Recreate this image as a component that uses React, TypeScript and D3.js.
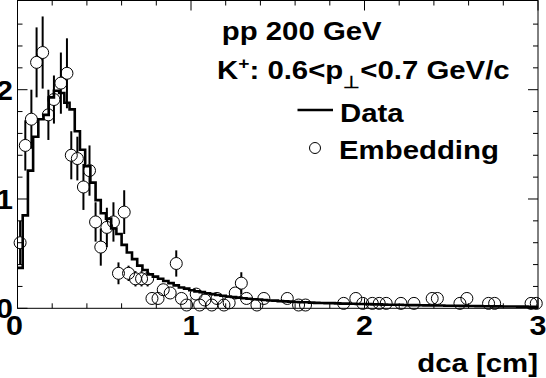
import React from "react";
import * as d3 from "d3";

// ---- data ----
const binWidth = 0.03;
const dataHist: number[] = [
  0.37, 0.85, 1.26, 1.57, 1.73, 1.77, 1.93, 1.99, 1.97, 1.88,
  1.82, 1.62, 1.45, 1.30, 1.15, 0.99, 0.87, 0.82, 0.73, 0.68,
  0.58, 0.51, 0.45, 0.39, 0.35, 0.31, 0.29, 0.27, 0.25, 0.23,
  0.21, 0.19, 0.18, 0.165, 0.155, 0.148, 0.138, 0.13, 0.122, 0.115,
  0.108, 0.104, 0.098, 0.092, 0.088, 0.083, 0.080, 0.076, 0.072, 0.070,
  0.066, 0.063, 0.061, 0.058, 0.056, 0.055, 0.052, 0.050, 0.049, 0.047,
  0.047, 0.045, 0.043, 0.043, 0.041, 0.040, 0.039, 0.038, 0.036, 0.036,
  0.034, 0.033, 0.032, 0.032, 0.030, 0.029, 0.029, 0.028, 0.027, 0.026,
  0.026, 0.025, 0.024, 0.023, 0.023, 0.022, 0.021, 0.021, 0.020, 0.019,
  0.019, 0.018, 0.018, 0.017, 0.016, 0.016, 0.015, 0.015, 0.014, 0.014,
];

const embX: number[] = [
  0.015, 0.045, 0.08, 0.11, 0.145, 0.178, 0.21, 0.25, 0.285, 0.31,
  0.345, 0.38, 0.415, 0.45, 0.48, 0.515, 0.553, 0.582, 0.615, 0.64,
  0.68, 0.715, 0.75, 0.775, 0.81, 0.84, 0.88, 0.915, 0.945, 0.975,
  1.03, 1.05, 1.08, 1.12, 1.15, 1.19, 1.22, 1.255, 1.29, 1.32,
  1.38, 1.42, 1.555, 1.62, 1.66, 1.88, 1.95, 1.99, 2.045, 2.085,
  2.125, 2.21, 2.285, 2.39, 2.42, 2.55, 2.59, 2.715, 2.75, 2.96, 2.99,
];
const embY: number[] = [
  0.60, 1.49, 1.73, 2.25, 2.34, 1.77, 1.91, 2.06, 2.15, 1.40,
  1.37, 1.11, 1.26, 0.79, 0.56, 0.74, 0.79, 0.32, 0.88, 0.32,
  0.27, 0.27, 0.27, 0.09, 0.09, 0.17, 0.14, 0.41, 0.09, 0.03,
  0.13, 0.03, 0.076, 0.03, 0.09, 0.03, 0.05, 0.14, 0.23, 0.09,
  0.03, 0.09, 0.09, 0.03, 0.03, 0.045, 0.09, 0.045, 0.045, 0.045,
  0.045, 0.045, 0.045, 0.09, 0.09, 0.045, 0.09, 0.045, 0.045, 0.045, 0.045,
];
const embErr: number[] = [
  0.20, 0.23, 0.27, 0.32, 0.33, 0.23, 0.22, 0.28, 0.32, 0.22,
  0.20, 0.21, 0.23, 0.18, 0.17, 0.18, 0.18, 0.10, 0.20, 0.07,
  0.07, 0.07, 0.07, 0.03, 0.03, 0.04, 0.04, 0.12, 0.03, 0.02,
  0.03, 0.02, 0.03, 0.02, 0.03, 0.02, 0.02, 0.04, 0.10, 0.03,
  0.02, 0.03, 0.03, 0.02, 0.02, 0.02, 0.03, 0.02, 0.02, 0.02,
  0.02, 0.02, 0.02, 0.03, 0.03, 0.02, 0.03, 0.02, 0.02, 0.02, 0.02,
];

const xMajor = [0, 1, 2, 3];
const yMajor = [0, 1, 2];
const xTickLabels = ["0", "1", "2", "3"];
const yTickLabels = ["0", "1", "2"];

const W = 546;
const H = 378;
const FONT = "'Liberation Sans', Arial, Helvetica, sans-serif";
const SX = 1.13; // horizontal stretch of the reference's text

function T({ x, y, size, anchor, children }: { x: number; y: number; size: number; anchor?: string; children: React.ReactNode }) {
  return (
    <g transform={`translate(${x},${y}) scale(${SX},1)`}>
      <text x={0} y={0} fontSize={size} textAnchor={anchor || "start"}>
        {children}
      </text>
    </g>
  );
}

export default function App() {
  const x = d3.scaleLinear().domain([0, 3]).range([17.5, 538]);
  const y = d3.scaleLinear().domain([0, 2.816]).range([308.3, 0.5]);
  const x0 = x(0), x1 = x(3), y0 = y(0), y1 = y(2.816);

  const histPts: [number, number][] = dataHist.map((v, i) => [i * binWidth, v]);
  histPts.push([3, dataHist[dataHist.length - 1]]);
  const histLine = d3
    .line<[number, number]>()
    .x((d) => x(d[0]))
    .y((d) => y(d[1]))
    .curve(d3.curveStepAfter)(histPts) as string;

  const xMinor = d3.range(0, 3.0001, 0.2).filter((v) => Math.abs(v - Math.round(v)) > 1e-6);
  const yMinor = d3.range(0, 2.8, 0.2).filter((v) => Math.abs(v - Math.round(v)) > 1e-6);

  const r = 6;
  const fs = 26;

  return (
    <svg
      width={W}
      height={H}
      style={{ position: "absolute", left: 0, top: 0, background: "#fff" }}
      fontFamily={FONT}
      fontWeight="bold"
    >
      <rect x={0} y={0} width={W} height={H} fill="#fff" />
      {/* frame */}
      <rect x={x0} y={y1} width={x1 - x0} height={y0 - y1} fill="none" stroke="#000" strokeWidth={1} />
      {xMajor.map((v) => (
        <g key={"xM" + v}>
          <line x1={x(v)} x2={x(v)} y1={y0} y2={y0 - 10} stroke="#000" strokeWidth={1} />
          <line x1={x(v)} x2={x(v)} y1={y1} y2={y1 + 10} stroke="#000" strokeWidth={1} />
        </g>
      ))}
      {xMinor.map((v) => (
        <g key={"xm" + v}>
          <line x1={x(v)} x2={x(v)} y1={y0} y2={y0 - 5} stroke="#000" strokeWidth={1} />
          <line x1={x(v)} x2={x(v)} y1={y1} y2={y1 + 5} stroke="#000" strokeWidth={1} />
        </g>
      ))}
      {yMajor.map((v) => (
        <g key={"yM" + v}>
          <line x1={x0} x2={x0 + 10} y1={y(v)} y2={y(v)} stroke="#000" strokeWidth={1} />
          <line x1={x1} x2={x1 - 10} y1={y(v)} y2={y(v)} stroke="#000" strokeWidth={1} />
        </g>
      ))}
      {yMinor.map((v) => (
        <g key={"ym" + v}>
          <line x1={x0} x2={x0 + 5} y1={y(v)} y2={y(v)} stroke="#000" strokeWidth={1} />
          <line x1={x1} x2={x1 - 5} y1={y(v)} y2={y(v)} stroke="#000" strokeWidth={1} />
        </g>
      ))}
      {/* tick labels */}
      {xMajor.map((v, i) => (
        <T key={"xl" + v} x={x(v) - (i === 0 ? 3 : 0)} y={y0 + 27} size={27} anchor="middle">
          {xTickLabels[i]}
        </T>
      ))}
      {yMajor.map((v, i) => (
        <T key={"yl" + v} x={13} y={y(v) + 10} size={27} anchor="end">
          {yTickLabels[i]}
        </T>
      ))}
      {/* histogram */}
      <path d={histLine} fill="none" stroke="#000" strokeWidth={2.6} />
      {/* embedding points */}
      {embX.map((xv, i) => {
        const cx = x(xv);
        const cy = y(embY[i]);
        const top = y(embY[i] + embErr[i]);
        const bot = Math.min(y(embY[i] - embErr[i]), y0);
        return (
          <g key={"e" + i}>
            {cy - top > r && <line x1={cx} x2={cx} y1={top} y2={cy - r} stroke="#000" strokeWidth={2} />}
            {bot - cy > r && <line x1={cx} x2={cx} y1={cy + r} y2={bot} stroke="#000" strokeWidth={2} />}
            <circle cx={cx} cy={cy} r={r} fill="none" stroke="#000" strokeWidth={1} />
          </g>
        );
      })}
      {/* texts */}
      <T x={221.7} y={40} size={fs}>pp 200 GeV</T>
      <T x={217} y={78.5} size={fs}>
        K<tspan dy={-10} fontSize={17}>+</tspan>
        <tspan dy={10}>: 0.6&lt;p</tspan>
        <tspan dy={9} fontSize={17}>⊥</tspan>
        <tspan dy={-9}>&lt;0.7 GeV/c</tspan>
      </T>
      <line x1={297.5} x2={333} y1={110} y2={110} stroke="#000" strokeWidth={2.6} />
      <T x={340} y={121.5} size={fs}>Data</T>
      <circle cx={315} cy={148} r={5.5} fill="none" stroke="#000" strokeWidth={1} />
      <T x={339} y={158.5} size={fs}>Embedding</T>
      <T x={538} y={372} size={fs}>
        <tspan textAnchor="end">dca [cm]</tspan>
      </T>
    </svg>
  );
}
